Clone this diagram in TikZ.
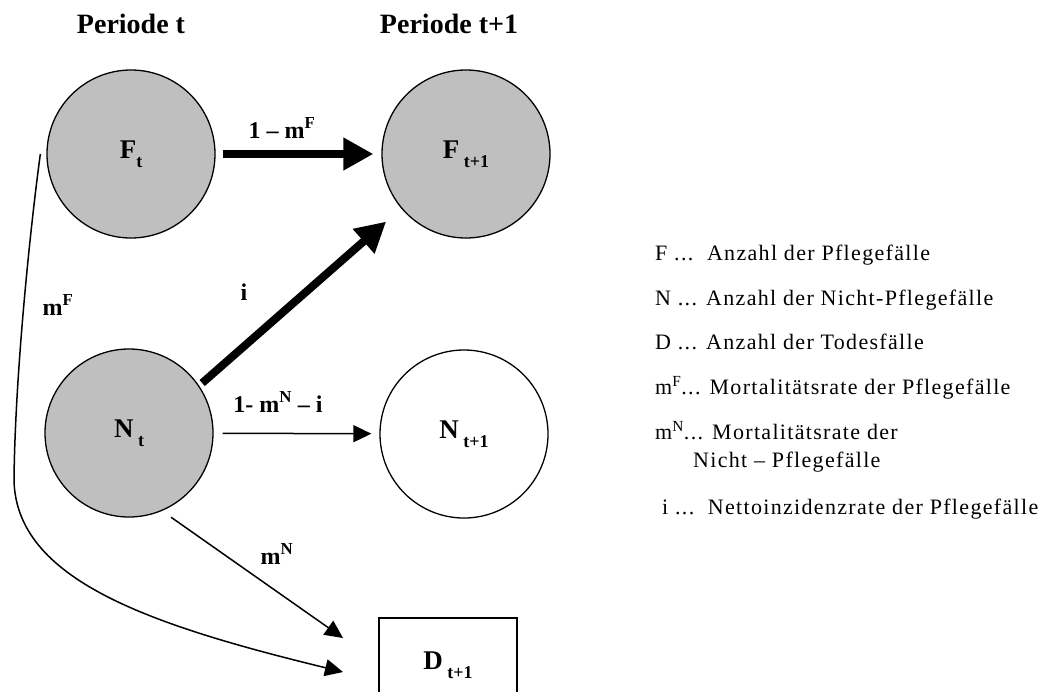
\documentclass[tikz,border=0pt]{standalone}
\usepackage{fontspec}
\setmainfont{Liberation Serif}
\newfontfamily\legfont[LetterSpace=6]{Liberation Serif}
\usetikzlibrary{arrows.meta}
\newcommand\sbt[2]{#1\raisebox{-0.32em}{\fontsize{18}{18}\selectfont #2}}
\begin{document}
\begin{tikzpicture}[x=1pt,y=-1pt,
  state/.style={circle, draw, line width=1.3pt, minimum size=168pt, inner sep=0pt,
    font=\fontsize{27}{29}\selectfont\bfseries},
  grey/.style={state, fill=black!25},
  dbox/.style={rectangle, draw, line width=1.5pt, minimum width=138pt, minimum height=94pt,
    inner sep=0pt, font=\fontsize{27}{29}\selectfont\bfseries},
  head/.style={font=\fontsize{28}{30}\selectfont\bfseries, inner sep=0pt, anchor=base},
  lab/.style={font=\fontsize{24}{26}\selectfont\bfseries, inner sep=0pt},
  legend/.style={font=\legfont\fontsize{22}{24}\selectfont, inner sep=0pt, anchor=base west},
  thickarrow/.style={line width=8pt, -{Triangle[length=30pt,width=31pt]}},
  thinarrow/.style={line width=1.5pt, -{Triangle[length=18pt,width=17pt]}},
]
\clip (0,0) rectangle (1051,691);
\fill[white] (0,0) rectangle (1051,691);

\node[head] (h1) at (131,33) {Periode t};
\node[head] (h2) at (449,33) {Periode t+1};

\node[grey] (Ft) at (131,154) {\sbt{F}{t}};
\node[grey] (Ft1) at (466,154) {\sbt{F\,}{t+1}};
\node[grey] (Nt) at (129,433) {\sbt{N\,}{t}};
\node[state] (Nt1) at (464,434) {\sbt{N\,}{t+1}};
\node[dbox] (D) at (448,665) {\sbt{D\,}{t+1}};

\coordinate (tipN) at (343,638);
\coordinate (tipF) at (343,672);

\draw[thickarrow, shorten <=7pt, shorten >=8pt] (Ft) -- (Ft1);
\draw[thickarrow, shorten <=4pt, shorten >=20pt] (Nt.34) -- (Ft1.220);
\draw[thinarrow, shorten <=9pt, shorten >=8pt] (Nt) -- (Nt1);
\draw[thinarrow, shorten <=11pt] (Nt.-67.7) -- (tipN);
\draw[line width=1.5pt, -{Triangle[length=18pt,width=17pt]}]
  ([xshift=-6pt]Ft.west) .. controls (29,238) and (15,380) .. (14,480)
  .. controls (16,580) and (150,625) .. (tipF);

\node[lab] (l1) at (282,128) {1 – m\textsuperscript{F}};
\node[lab] (l2) at (244,292) {i};
\node[lab] (l3) at (58,305) {m\textsuperscript{F}};
\node[lab] (l4) at (278,402) {1- m\textsuperscript{N} – i};
\node[lab] (l5) at (277,554) {m\textsuperscript{N}};

\node[legend] (g1) at (655,260) {F ...\ \ Anzahl der Pflegefälle};
\node[legend] (g2) at (655,305) {N ... Anzahl der Nicht-Pflegefälle};
\node[legend] (g3) at (655,349) {D ... Anzahl der Todesfälle};
\node[legend] (g4) at (655,394) {m\textsuperscript{F}... Mortalitätsrate der Pflegefälle};
\node[legend] (g5) at (655,439) {m\textsuperscript{N}... Mortalitätsrate der};
\node[legend] (g6) at (693,467) {Nicht – Pflegefälle};
\node[legend] (g7) at (662,514) {i ...\ \ Nettoinzidenzrate der Pflegefälle};
\end{tikzpicture}
\end{document}
